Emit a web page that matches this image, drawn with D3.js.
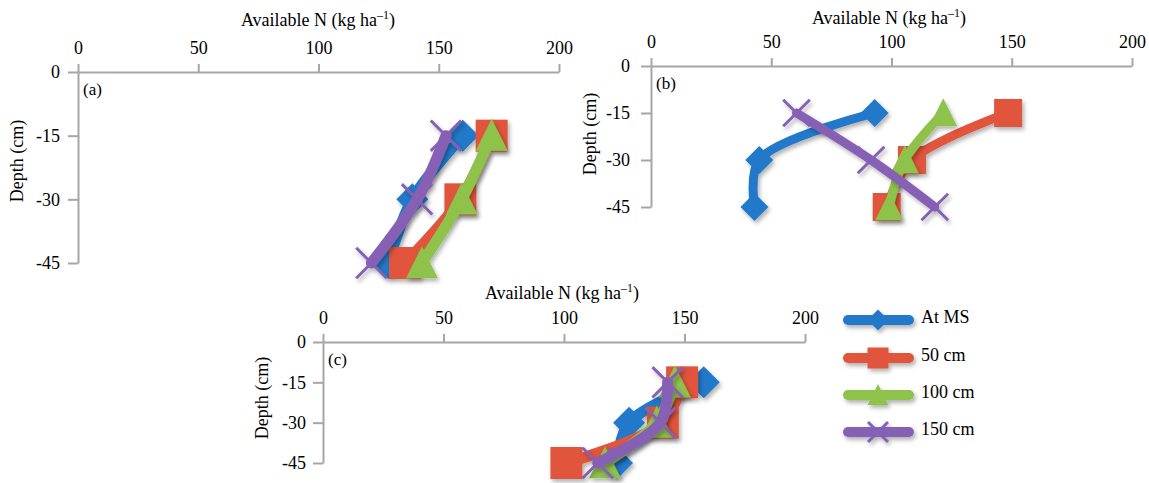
<!DOCTYPE html>
<html>
<head>
<meta charset="utf-8">
<script src="https://cdn.jsdelivr.net/npm/d3@7"></script>
<style>
  html, body { margin: 0; padding: 0; background: #ffffff; }
  svg { display: block; }
  text { font-family: "Liberation Serif", "DejaVu Serif", serif; fill: #000; }
</style>
</head>
<body>
<svg id="chart" width="1149" height="483"></svg>
<script>
// ---------------- DATA ----------------
const depths = [-15, -30, -45];
const yTicks = [0, -15, -30, -45];
const xTicks = [0, 50, 100, 150, 200];
const seriesNames = ["At MS", "50 cm", "100 cm", "150 cm"];
const panelLabels = ["(a)", "(b)", "(c)"];

const panelA_atMS = [160, 139, 129];
const panelA_50cm = [172, 159, 136];
const panelA_100cm = [172, 159.5, 143];
const panelA_150cm = [153, 141, 122];

const panelB_atMS = [93, 45, 43];
const panelB_50cm = [148.5, 108.5, 98];
const panelB_100cm = [121.5, 105.5, 99];
const panelB_150cm = [60.5, 91.5, 118];

const panelC_atMS = [158, 127, 122];
const panelC_50cm = [149, 141, 101];
const panelC_100cm = [146, 138.5, 117];
const panelC_150cm = [143, 140, 114];

// ---------------- STYLE / LAYOUT ----------------
const colors = ["#2479c9", "#e0553b", "#8ec24c", "#8561b4"];
const shapes = ["diamond", "square", "triangle", "x"];

const panels = [
  { label: panelLabels[0], data: [panelA_atMS, panelA_50cm, panelA_100cm, panelA_150cm],
    x0: 78, x1: 559, y0: 72, y1: 263, ms: 32, lw: 11, pad: 8,
    tx: 318, ty: 26, yx: 23, yy: 161 },
  { label: panelLabels[1], data: [panelB_atMS, panelB_50cm, panelB_100cm, panelB_150cm],
    x0: 651, x1: 1132, y0: 66, y1: 207, ms: 28, lw: 9, pad: 11,
    tx: 889, ty: 24, yx: 596, yy: 134 },
  { label: panelLabels[2], data: [panelC_atMS, panelC_50cm, panelC_100cm, panelC_150cm],
    x0: 323, x1: 805, y0: 342, y1: 463, ms: 32, lw: 11, pad: 7,
    tx: 562, ty: 299, yx: 268, yy: 398 }
];

const svg = d3.select("#chart");

const defs = svg.append("defs");
const f = defs.append("filter").attr("id", "shadow")
  .attr("x", "-30%").attr("y", "-30%").attr("width", "160%").attr("height", "160%");
f.append("feDropShadow").attr("dx", 2).attr("dy", 3).attr("stdDeviation", 2)
  .attr("flood-color", "#000").attr("flood-opacity", 0.3);

function drawMarker(g, shape, color, s, cx, cy) {
  const h = s / 2;
  if (shape === "diamond") {
    g.append("path").attr("d", `M${cx},${cy - h}L${cx + h},${cy}L${cx},${cy + h}L${cx - h},${cy}Z`)
      .attr("fill", color);
  } else if (shape === "square") {
    g.append("rect").attr("x", cx - h).attr("y", cy - h).attr("width", s).attr("height", s)
      .attr("fill", color);
  } else if (shape === "triangle") {
    g.append("path").attr("d", `M${cx},${cy - h * 1.05}L${cx + h},${cy + h * 0.95}L${cx - h},${cy + h * 0.95}Z`)
      .attr("fill", color);
  } else {
    const q = h * 0.95;
    g.append("path").attr("d", `M${cx - q},${cy - q}L${cx + q},${cy + q}M${cx - q},${cy + q}L${cx + q},${cy - q}`)
      .attr("stroke", color).attr("stroke-width", 3).attr("fill", "none");
  }
}

function axisStyle(g) {
  g.select(".domain").attr("stroke", "#a6a6a6").attr("stroke-width", 2);
  g.selectAll(".tick line").attr("stroke", "#a6a6a6").attr("stroke-width", 2);
  g.selectAll(".tick text").attr("font-family", "Liberation Serif").attr("font-size", 18).attr("fill", "#000");
}

panels.forEach(p => {
  const x = d3.scaleLinear().domain([0, 200]).range([p.x0, p.x1]);
  const y = d3.scaleLinear().domain([0, -45]).range([p.y0, p.y1]);
  const g = svg.append("g");

  // axes
  const gx = g.append("g").attr("transform", `translate(0,${y(0)})`)
    .call(d3.axisTop(x).tickValues(xTicks).tickSize(8).tickSizeOuter(0).tickPadding(10).tickFormat(d => String(d)));
  axisStyle(gx);
  const gy = g.append("g").attr("transform", `translate(${x(0)},0)`)
    .call(d3.axisLeft(y).tickValues(yTicks).tickSize(10).tickSizeOuter(0).tickPadding(p.pad).tickFormat(d => String(d)));
  axisStyle(gy);

  // titles
  const t = g.append("text").attr("x", p.tx).attr("y", p.ty).attr("text-anchor", "middle")
    .attr("font-size", 18);
  t.append("tspan").text("Available N (kg ha");
  t.append("tspan").attr("font-size", 12).attr("dy", -7).text("\u20131");
  t.append("tspan").attr("dy", 7).text(")");

  g.append("text").attr("transform", `translate(${p.yx},${p.yy}) rotate(-90)`)
    .attr("text-anchor", "middle").attr("font-size", 18).text("Depth (cm)");

  g.append("text").attr("x", x(0) + 5).attr("y", y(0) + 23).attr("font-size", 17).text(p.label);

  // series
  const line = d3.line().x(d => x(d[0])).y(d => y(d[1])).curve(d3.curveCatmullRom.alpha(0.5));
  p.data.forEach((vals, i) => {
    const pts = vals.map((v, k) => [v, depths[k]]);
    const sg = g.append("g").attr("filter", "url(#shadow)");
    sg.append("path").attr("d", line(pts)).attr("fill", "none").attr("stroke", colors[i])
      .attr("stroke-width", p.lw).attr("stroke-linejoin", "round").attr("stroke-linecap", "round");
    pts.forEach(pt => drawMarker(sg, shapes[i], colors[i], p.ms, x(pt[0]), y(pt[1])));
  });
});

// legend
const legendY = [320, 358, 395, 432];
seriesNames.forEach((name, i) => {
  const lg = svg.append("g");
  const sg = lg.append("g").attr("filter", "url(#shadow)");
  sg.append("line").attr("x1", 848).attr("x2", 909).attr("y1", legendY[i]).attr("y2", legendY[i])
    .attr("stroke", colors[i]).attr("stroke-width", 10).attr("stroke-linecap", "round");
  drawMarker(sg, shapes[i], colors[i], 21, 878, legendY[i]);
  lg.append("text").attr("x", 921).attr("y", legendY[i] + 3).attr("font-size", 18).text(name);
});
</script>
</body>
</html>
